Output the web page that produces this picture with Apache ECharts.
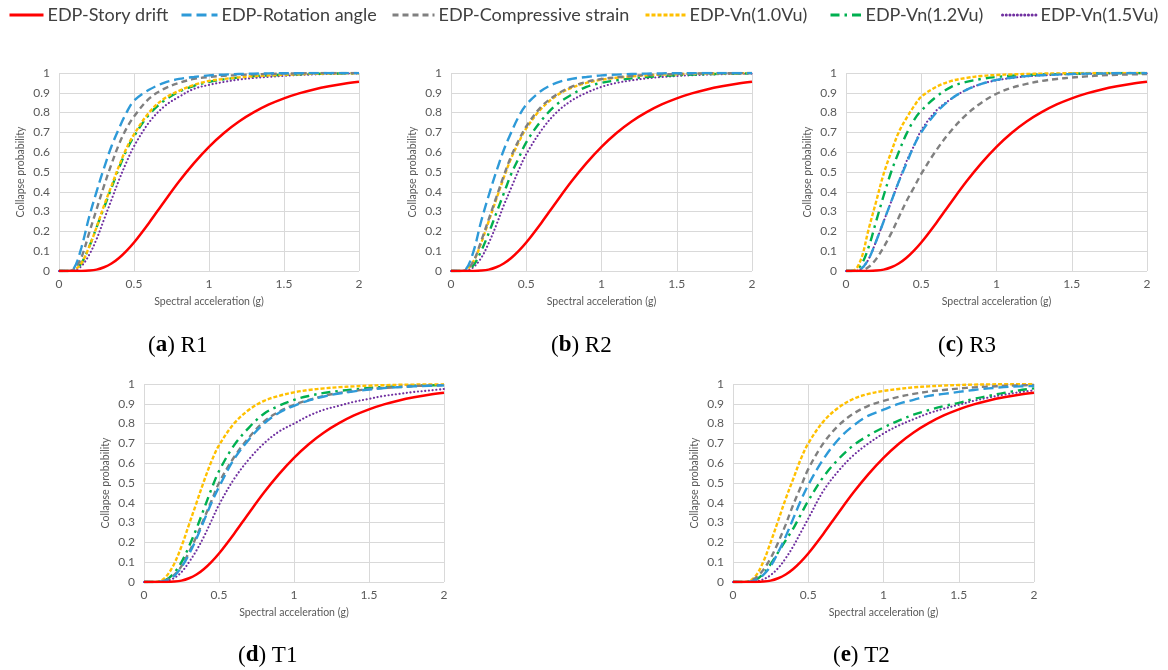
<!DOCTYPE html>
<html>
<head>
<meta charset="utf-8">
<script src="https://cdn.jsdelivr.net/npm/echarts@6/dist/echarts.min.js"></script>
<style>
html,body{margin:0;padding:0;background:#fff;}
#chart{width:1168px;height:670px;}
</style>
</head>
<body>
<div id="chart"></div>
<script>
// Spectral acceleration (g) sample points
const SA = [0, 0.05, 0.1, 0.15, 0.2, 0.25, 0.3, 0.35, 0.4, 0.45, 0.5, 0.6, 0.7, 0.8, 0.9, 1.0, 1.1, 1.2, 1.3, 1.4, 1.5, 1.6, 1.7, 1.8, 1.9, 2.0];

// EDP-Story drift (same in all panels)
const storyDrift = [0, 0, 0, 0.0003, 0.002, 0.007, 0.019, 0.038, 0.066, 0.102, 0.144, 0.243, 0.349, 0.452, 0.545, 0.627, 0.697, 0.755, 0.802, 0.841, 0.872, 0.897, 0.917, 0.933, 0.946, 0.956];

// (a) R1
const R1_rotation    = [0, 0, 0.015, 0.12, 0.27, 0.40, 0.52, 0.63, 0.72, 0.80, 0.86, 0.915, 0.95, 0.97, 0.98, 0.988, 0.992, 0.995, 0.997, 0.998, 0.999, 0.999, 1, 1, 1, 1];
const R1_compressive = [0, 0, 0.01, 0.07, 0.19, 0.31, 0.43, 0.54, 0.64, 0.72, 0.78, 0.87, 0.92, 0.95, 0.97, 0.98, 0.986, 0.99, 0.993, 0.995, 0.997, 0.998, 0.999, 1, 1, 1];
const R1_vn10        = [0, 0, 0.005, 0.04, 0.12, 0.22, 0.33, 0.43, 0.53, 0.62, 0.69, 0.80, 0.87, 0.91, 0.94, 0.96, 0.97, 0.978, 0.984, 0.988, 0.991, 0.994, 0.996, 0.997, 0.998, 0.999];
const R1_vn12        = [0, 0, 0.005, 0.04, 0.12, 0.22, 0.32, 0.42, 0.52, 0.61, 0.68, 0.79, 0.86, 0.905, 0.935, 0.955, 0.968, 0.977, 0.984, 0.988, 0.991, 0.994, 0.996, 0.997, 0.998, 0.999];
const R1_vn15        = [0, 0, 0.003, 0.025, 0.08, 0.16, 0.26, 0.36, 0.46, 0.55, 0.63, 0.75, 0.83, 0.88, 0.92, 0.94, 0.955, 0.967, 0.975, 0.981, 0.986, 0.99, 0.993, 0.995, 0.997, 0.998];

// (b) R2
const R2_rotation    = [0, 0, 0.01, 0.10, 0.25, 0.38, 0.50, 0.61, 0.70, 0.78, 0.84, 0.91, 0.95, 0.97, 0.98, 0.988, 0.992, 0.995, 0.997, 0.998, 0.999, 0.999, 1, 1, 1, 1];
const R2_compressive = [0, 0, 0.006, 0.05, 0.15, 0.26, 0.37, 0.48, 0.58, 0.66, 0.73, 0.83, 0.89, 0.93, 0.955, 0.97, 0.978, 0.985, 0.99, 0.993, 0.995, 0.997, 0.998, 0.999, 0.999, 1];
const R2_vn10        = [0, 0, 0.005, 0.05, 0.14, 0.25, 0.36, 0.47, 0.57, 0.65, 0.72, 0.82, 0.885, 0.925, 0.95, 0.966, 0.976, 0.983, 0.988, 0.992, 0.994, 0.996, 0.997, 0.998, 0.999, 1];
const R2_vn12        = [0, 0, 0.004, 0.03, 0.10, 0.19, 0.29, 0.39, 0.49, 0.57, 0.65, 0.76, 0.84, 0.89, 0.93, 0.95, 0.963, 0.973, 0.98, 0.985, 0.989, 0.992, 0.994, 0.996, 0.997, 0.998];
const R2_vn15        = [0, 0, 0.002, 0.02, 0.065, 0.14, 0.23, 0.33, 0.42, 0.51, 0.59, 0.71, 0.80, 0.86, 0.90, 0.93, 0.95, 0.963, 0.973, 0.98, 0.985, 0.989, 0.992, 0.994, 0.996, 0.997];

// (c) R3
const R3_rotation    = [0, 0, 0.01, 0.06, 0.15, 0.25, 0.35, 0.45, 0.54, 0.63, 0.70, 0.80, 0.87, 0.915, 0.945, 0.965, 0.976, 0.984, 0.989, 0.992, 0.995, 0.997, 0.998, 0.999, 1, 1];
const R3_compressive = [0, 0, 0.002, 0.02, 0.06, 0.12, 0.19, 0.27, 0.35, 0.42, 0.49, 0.61, 0.71, 0.79, 0.85, 0.895, 0.925, 0.945, 0.96, 0.97, 0.977, 0.983, 0.988, 0.991, 0.993, 0.995];
const R3_vn10        = [0, 0.002, 0.06, 0.21, 0.35, 0.49, 0.60, 0.70, 0.77, 0.83, 0.88, 0.93, 0.96, 0.975, 0.985, 0.99, 0.993, 0.995, 0.997, 0.998, 0.999, 1, 1, 1, 1, 1];
const R3_vn12        = [0, 0.001, 0.03, 0.12, 0.25, 0.38, 0.50, 0.60, 0.69, 0.76, 0.81, 0.88, 0.93, 0.955, 0.97, 0.98, 0.986, 0.99, 0.993, 0.995, 0.997, 0.998, 0.999, 1, 1, 1];
const R3_vn15        = [0, 0, 0.01, 0.06, 0.15, 0.25, 0.35, 0.45, 0.55, 0.63, 0.71, 0.81, 0.87, 0.915, 0.945, 0.963, 0.975, 0.983, 0.988, 0.992, 0.994, 0.996, 0.997, 0.998, 0.999, 0.999];

// (d) T1
const T1_rotation    = [0, 0, 0.001, 0.009, 0.03, 0.075, 0.14, 0.22, 0.31, 0.40, 0.48, 0.62, 0.72, 0.80, 0.855, 0.89, 0.917, 0.937, 0.952, 0.963, 0.972, 0.979, 0.984, 0.988, 0.991, 0.993];
const T1_compressive = [0, 0, 0.001, 0.01, 0.035, 0.08, 0.15, 0.23, 0.32, 0.41, 0.50, 0.63, 0.73, 0.81, 0.86, 0.895, 0.92, 0.94, 0.955, 0.965, 0.975, 0.98, 0.985, 0.99, 0.992, 0.994];
const T1_vn10        = [0, 0, 0.003, 0.03, 0.09, 0.18, 0.29, 0.40, 0.51, 0.61, 0.69, 0.80, 0.87, 0.915, 0.94, 0.958, 0.97, 0.978, 0.984, 0.988, 0.992, 0.994, 0.996, 0.997, 0.998, 0.998];
const T1_vn12        = [0, 0, 0.001, 0.012, 0.045, 0.10, 0.18, 0.27, 0.37, 0.47, 0.56, 0.69, 0.78, 0.85, 0.89, 0.92, 0.94, 0.955, 0.965, 0.973, 0.98, 0.985, 0.988, 0.991, 0.993, 0.995];
const T1_vn15        = [0, 0, 0.0005, 0.005, 0.02, 0.05, 0.10, 0.16, 0.23, 0.31, 0.39, 0.52, 0.62, 0.70, 0.76, 0.80, 0.84, 0.87, 0.89, 0.91, 0.925, 0.94, 0.95, 0.96, 0.967, 0.975];

// (e) T2
const T2_rotation    = [0, 0, 0.001, 0.01, 0.035, 0.08, 0.15, 0.23, 0.32, 0.41, 0.49, 0.62, 0.72, 0.79, 0.84, 0.87, 0.90, 0.92, 0.94, 0.95, 0.96, 0.97, 0.978, 0.984, 0.988, 0.99];
const T2_compressive = [0, 0, 0.002, 0.02, 0.06, 0.12, 0.20, 0.29, 0.39, 0.48, 0.57, 0.70, 0.79, 0.85, 0.89, 0.915, 0.935, 0.95, 0.962, 0.97, 0.977, 0.983, 0.987, 0.99, 0.993, 0.995];
const T2_vn10        = [0, 0, 0.003, 0.03, 0.10, 0.20, 0.31, 0.42, 0.52, 0.62, 0.70, 0.81, 0.88, 0.925, 0.95, 0.965, 0.975, 0.983, 0.988, 0.992, 0.995, 0.997, 0.998, 0.999, 0.999, 1];
const T2_vn12        = [0, 0, 0.001, 0.01, 0.04, 0.09, 0.15, 0.21, 0.27, 0.34, 0.41, 0.53, 0.62, 0.69, 0.74, 0.78, 0.815, 0.845, 0.868, 0.888, 0.905, 0.925, 0.94, 0.955, 0.968, 0.978];
const T2_vn15        = [0, 0, 0.0003, 0.003, 0.013, 0.035, 0.07, 0.12, 0.18, 0.25, 0.32, 0.46, 0.56, 0.64, 0.70, 0.75, 0.79, 0.822, 0.852, 0.875, 0.895, 0.915, 0.932, 0.946, 0.958, 0.968];

const seriesNames = ['EDP-Story drift', 'EDP-Rotation angle', 'EDP-Compressive strain', 'EDP-Vn(1.0Vu)', 'EDP-Vn(1.2Vu)', 'EDP-Vn(1.5Vu)'];
const panelCaptions = ['a|R1', 'b|R2', 'c|R3', 'd|T1', 'e|T2'];
const xTicks = [0, 0.5, 1, 1.5, 2];
const yTicks = [0, 0.1, 0.2, 0.3, 0.4, 0.5, 0.6, 0.7, 0.8, 0.9, 1];

const panelData = [
  [storyDrift, R1_rotation, R1_compressive, R1_vn10, R1_vn12, R1_vn15],
  [storyDrift, R2_rotation, R2_compressive, R2_vn10, R2_vn12, R2_vn15],
  [storyDrift, R3_rotation, R3_compressive, R3_vn10, R3_vn12, R3_vn15],
  [storyDrift, T1_rotation, T1_compressive, T1_vn10, T1_vn12, T1_vn15],
  [storyDrift, T2_rotation, T2_compressive, T2_vn10, T2_vn12, T2_vn15]
];

// ---- styling / layout ----
const lineColors = ['#FF0000', '#2E9AD8', '#808080', '#FFC000', '#00B050', '#7030A0'];
const lineStyles = [
  {color: lineColors[0], width: 2.5, type: 'solid'},
  {color: lineColors[1], width: 2.4, type: [10, 5]},
  {color: lineColors[2], width: 2.4, type: [6, 4]},
  {color: lineColors[3], width: 2.4, type: [4, 2]},
  {color: lineColors[4], width: 2.4, type: [9, 5, 2.5, 5]},
  {color: lineColors[5], width: 2.1, type: [0.1, 3.6], cap: 'round'}
];
const grids = [
  {left: 59,  top: 73,  width: 300, height: 198},
  {left: 451, top: 73,  width: 301, height: 198},
  {left: 846, top: 73,  width: 301, height: 198},
  {left: 144, top: 384, width: 300, height: 198},
  {left: 733, top: 384, width: 301, height: 198}
];
const captionPos = [[183, 347], [586, 347], [973, 347], [273, 657], [868, 657]];
const legendPos = [
  {left: 8,    w: 34},
  {left: 180,  w: 36},
  {left: 391,  w: 42},
  {left: 644,  w: 40},
  {left: 829,  w: 31},
  {left: 1001, w: 34}
];

const FONT = 'Lato, "Open Sans", sans-serif';
const labelColor = '#595959';
const gridColor = '#D9D9D9';

const xAxes = [], yAxes = [], series = [], graphics = [];
grids.forEach((g, i) => {
  xAxes.push({
    type: 'value', gridIndex: i, min: 0, max: 2, interval: 0.5,
    axisLine: {show: false}, axisTick: {show: false},
    axisLabel: {color: labelColor, fontSize: 12, fontFamily: FONT, margin: 7,
      formatter: v => xTicks.indexOf(v) >= 0 ? String(v) : ''},
    splitLine: {show: true, lineStyle: {color: gridColor, width: 1}},
    name: 'Spectral acceleration (g)', nameLocation: 'middle', nameGap: 25,
    nameTextStyle: {color: labelColor, fontSize: 10.5, fontFamily: FONT}
  });
  yAxes.push({
    type: 'value', gridIndex: i, min: 0, max: 1, interval: 0.1,
    axisLine: {show: false}, axisTick: {show: false},
    axisLabel: {color: labelColor, fontSize: 12, fontFamily: FONT, margin: 9,
      formatter: v => { const t = yTicks.find(k => Math.abs(k - v) < 1e-6); return t === undefined ? '' : String(t); }},
    splitLine: {show: true, lineStyle: {color: gridColor, width: 1}},
    name: 'Collapse probability', nameLocation: 'middle', nameGap: 33, nameRotate: 90,
    nameTextStyle: {color: labelColor, fontSize: 10.5, fontFamily: FONT}
  });
  panelData[i].forEach((arr, s) => {
    series.push({
      type: 'line', name: seriesNames[s], xAxisIndex: i, yAxisIndex: i,
      data: SA.map((x, k) => [x, arr[k]]),
      showSymbol: false, symbol: 'none', smooth: 0.35,
      color: lineColors[s], itemStyle: {color: lineColors[s]},
      lineStyle: lineStyles[s], silent: true, z: 10 - s
    });
  });
  const cap = panelCaptions[i].split('|');
  graphics.push({
    type: 'text', left: captionPos[i][0] - 35, top: captionPos[i][1] - 13,
    style: {
      text: '({b|' + cap[0] + '}) ' + cap[1],
      fill: '#000', font: '23px "Liberation Serif", "DejaVu Serif", serif',
      rich: {b: {fontWeight: 'bold', fontSize: 23, fontFamily: '"Liberation Serif", serif', fill: '#000'}}
    }
  });
});

const legends = seriesNames.map((n, i) => ({
  data: [n], left: legendPos[i].left, top: 6, itemWidth: legendPos[i].w, itemHeight: 14,
  itemGap: 0, selectedMode: false, padding: 0,
  itemStyle: {opacity: 0},
  lineStyle: {width: 3},
  textStyle: {color: '#404040', fontSize: 18, fontFamily: FONT, padding: [0, 0, 0, -1]}
}));

const chart = echarts.init(document.getElementById('chart'), null, {renderer: 'canvas'});
chart.setOption({
  animation: false,
  backgroundColor: '#fff',
  grid: grids,
  xAxis: xAxes,
  yAxis: yAxes,
  legend: legends,
  series: series,
  graphic: graphics
});
</script>
</body>
</html>
